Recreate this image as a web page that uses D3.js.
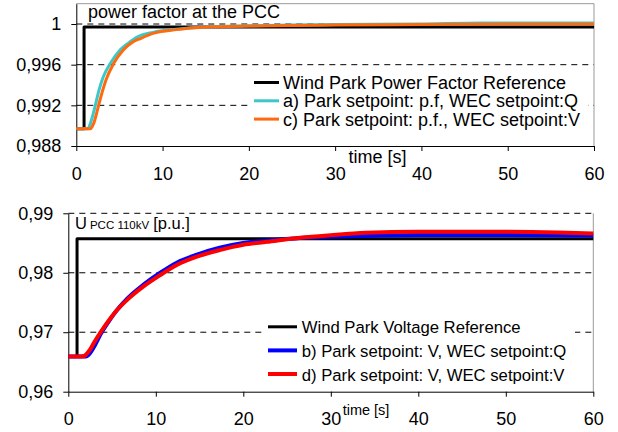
<!DOCTYPE html>
<html><head><meta charset="utf-8">
<script src="https://cdn.jsdelivr.net/npm/d3@7"></script>
<style>
html,body{margin:0;padding:0;background:#fff;}
svg{display:block;font-family:"Liberation Sans",Arial,sans-serif;}
</style></head>
<body><svg id="c" width="618" height="432"></svg>
<script>
// ---------- data ----------
const xTicks = [0, 10, 20, 30, 40, 50, 60];
const pfTicks = [0.988, 0.992, 0.996, 1];
const pfTickLabels = ["0,988", "0,992", "0,996", "1"];
const uTicks = [0.96, 0.97, 0.98, 0.99];
const uTickLabels = ["0,96", "0,97", "0,98", "0,99"];

const pfRefT = [0, 0.9, 0.9, 60];
const pfRefV = [0.9897, 0.9897, 0.9997, 0.9997];
const pfAT = [0, 1.35, 1.7, 2.17, 2.6, 3.13, 3.9, 5.07, 6, 7, 8.9, 11.6, 15, 20, 25, 30, 40, 47, 50, 60];
const pfAV = [0.9897, 0.9897, 0.9904, 0.99187, 0.9934, 0.99482, 0.99607, 0.99744, 0.9981, 0.99869, 0.99918, 0.99948, 0.9997, 0.99982, 0.9999, 0.99995, 1.0000, 1.0001, 1.0001, 1.0001];
const pfCT = [0, 1.65, 2, 2.55, 3, 3.44, 4.29, 5.45, 6.5, 7.5, 9, 11.6, 15, 20, 25, 30, 40, 50, 60];
const pfCV = [0.9897, 0.9897, 0.9902, 0.99187, 0.9933, 0.99449, 0.99607, 0.99744, 0.9982, 0.9986, 0.9991, 0.99945, 0.9997, 0.9998, 0.99985, 0.9999, 0.99995, 1.0000, 1.0000];

const uRefT = [0, 1, 1, 60];
const uRefV = [0.9659, 0.9659, 0.9857, 0.9857];
const uBT = [0, 2.0, 2.5, 3, 3.7, 4.8, 5.5, 6.7, 8.6, 10.5, 12.4, 14.7, 17.3, 20, 22.7, 26.5, 30, 34, 40, 50, 56, 60];
const uBV = [0.9659, 0.9659, 0.9665, 0.9677, 0.9697, 0.9722, 0.9736, 0.9756, 0.9780, 0.9800, 0.9817, 0.98305, 0.9842, 0.9850, 0.9854, 0.98585, 0.98605, 0.9862, 0.98633, 0.98635, 0.9863, 0.98625];
const uDT = [0, 1.5, 2, 2.5, 3, 3.7, 4.8, 5.5, 6.7, 8.6, 10.5, 12.4, 14.7, 17.3, 20, 22.7, 26.5, 30, 34, 40, 50, 56, 60];
const uDV = [0.9659, 0.9659, 0.9662, 0.9671, 0.9684, 0.9700, 0.9723, 0.9736, 0.9754, 0.9777, 0.9796, 0.9813, 0.9827, 0.9838, 0.9847, 0.9852, 0.9859, 0.98633, 0.98672, 0.98689, 0.98689, 0.98678, 0.98661];

const topLegend = ["Wind Park Power Factor Reference", "a) Park setpoint: p.f, WEC setpoint:Q", "c) Park setpoint: p.f., WEC setpoint:V"];
const botLegend = ["Wind Park Voltage Reference", "b) Park setpoint: V, WEC setpoint:Q", "d) Park setpoint: V, WEC setpoint:V"];

// ---------- drawing ----------
const svg = d3.select("#c");
const zip = (t, v) => t.map((d, i) => [d, v[i]]);

function panel(o) {
  const x = d3.scaleLinear().domain([0, 60]).range(o.xr);
  const y = d3.scaleLinear().domain(o.yd).range(o.yr);
  const g = svg.append("g");
  g.selectAll(".grid").data(o.grid).enter().append("line")
    .attr("x1", o.xr[0]).attr("x2", o.xr[1])
    .attr("y1", d => y(d)).attr("y2", d => y(d))
    .attr("stroke", "#000").attr("stroke-width", 1).attr("stroke-dasharray", "6,5");
  g.append("line").attr("x1", o.xr[1]).attr("x2", o.xr[1]).attr("y1", o.yr[0]).attr("y2", o.yr[1])
    .attr("stroke", "#999").attr("stroke-width", 1);
  if (o.topBorder) g.append("line").attr("x1", o.xr[0]).attr("x2", o.xr[1]).attr("y1", o.yr[1]).attr("y2", o.yr[1])
    .attr("stroke", "#999").attr("stroke-width", 1);
  const ax = g.append("g").attr("transform", `translate(0,${o.yr[0]})`)
    .call(d3.axisBottom(x).tickValues(xTicks).tickSize(5).tickSizeOuter(0).tickPadding(o.xPad).tickFormat(d3.format("d")));
  const ay = g.append("g").attr("transform", `translate(${o.xr[0]},0)`)
    .call(d3.axisLeft(y).tickValues(o.yTicks).tickSize(5).tickSizeOuter(0).tickPadding(10)
      .tickFormat((d, i) => o.yLabels[i]));
  [ax, ay].forEach(a => {
    a.selectAll("text").attr("font-size", 18).attr("fill", "#000").attr("font-family", '"Liberation Sans",Arial,sans-serif');
    a.select(".domain").attr("stroke", "#000");
    a.selectAll(".tick line").attr("stroke", "#000");
  });
  o.series.forEach(s => {
    const line = d3.line().x(d => x(d[0])).y(d => y(d[1]))
      .curve(s.step ? d3.curveLinear : d3.curveMonotoneX);
    g.append("path").datum(zip(s.t, s.v)).attr("d", line)
      .attr("fill", "none").attr("stroke", s.color).attr("stroke-width", s.w)
      .attr("stroke-linejoin", "round");
  });
  const L = o.legend;
  g.append("rect").attr("x", L.box[0]).attr("y", L.box[1]).attr("width", L.box[2]).attr("height", L.box[3]).attr("fill", "#fff");
  o.series.forEach((s, i) => {
    const by = L.y0 + i * L.dy;
    g.append("line").attr("x1", L.lx[0]).attr("x2", L.lx[1]).attr("y1", by - L.off).attr("y2", by - L.off)
      .attr("stroke", s.color).attr("stroke-width", s.w);
    g.append("text").attr("x", L.tx).attr("y", by).attr("font-size", L.fs).attr("fill", "#000").text(L.labels[i]);
  });
  return {x, y, g};
}

const pTop = panel({
  xr: [76.3, 594], yd: [0.988, 1.002], yr: [146, 3.7],
  grid: [0.992, 0.996, 1], topBorder: true, xPad: 16,
  yTicks: pfTicks, yLabels: pfTickLabels,
  series: [
    {t: pfRefT, v: pfRefV, color: "#000", w: 3, step: true},
    {t: pfAT, v: pfAV, color: "#3cc8c8", w: 3},
    {t: pfCT, v: pfCV, color: "#ff6a10", w: 3}
  ],
  legend: {box: [250, 70, 338, 61], y0: 89, dy: 18.3, off: 6.5, lx: [254, 279], tx: 283, fs: 18, labels: topLegend}
});
pTop.g.append("text").attr("x", 88).attr("y", 17.5).attr("font-size", 18).text("power factor at the PCC");
pTop.g.append("text").attr("x", 377.5).attr("y", 162.5).attr("text-anchor", "middle").attr("font-size", 18).text("time [s]");

const pBot = panel({
  xr: [68.3, 593.3], yd: [0.96, 0.99], yr: [391.7, 213.3],
  grid: [0.97, 0.98, 0.99], topBorder: false, xPad: 15.5,
  yTicks: uTicks, yLabels: uTickLabels,
  series: [
    {t: uRefT, v: uRefV, color: "#000", w: 3, step: true},
    {t: uBT, v: uBV, color: "#0000ff", w: 4},
    {t: uDT, v: uDV, color: "#ff0000", w: 4}
  ],
  legend: {box: [264, 314, 311, 71], y0: 333.3, dy: 23.6, off: 6.5, lx: [268, 297], tx: 301.7, fs: 16.7, labels: botLegend}
});
const title = pBot.g.append("text").attr("x", 75).attr("y", 228.5).attr("font-size", 16.5);
title.append("tspan").text("U");
title.append("tspan").attr("font-size", 11.5).attr("dx", 3).text("PCC 110kV");
title.append("tspan").attr("dx", 4).text("[p.u.]");
pBot.g.append("text").attr("x", 366).attr("y", 415).attr("text-anchor", "middle").attr("font-size", 14.5).text("time [s]");
</script>
</body></html>
